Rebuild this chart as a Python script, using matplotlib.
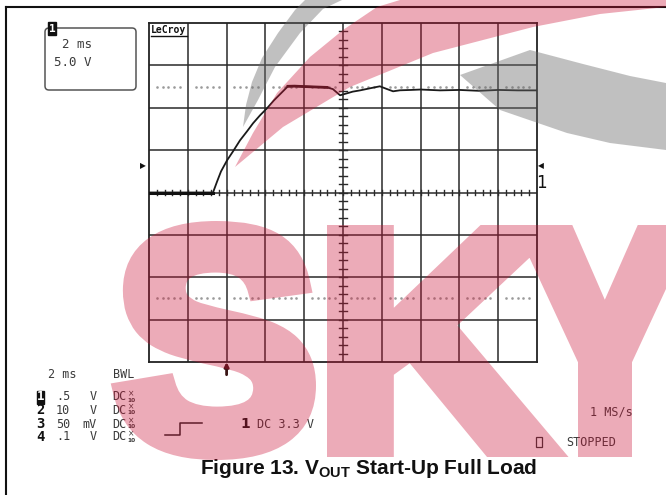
import matplotlib
matplotlib.use("Agg")
import matplotlib.pyplot as plt
import numpy as np
from matplotlib.patches import Polygon, FancyBboxPatch, Rectangle, PathPatch
from matplotlib.textpath import TextPath
from matplotlib.font_manager import FontProperties
from matplotlib.transforms import Affine2D
from matplotlib.path import Path
from matplotlib.figure import Figure
from matplotlib.backends.backend_agg import FigureCanvasAgg

# ---------------- data ----------------
time_ms = [0, 3.30, 3.51, 3.71, 4.02, 4.33, 4.69, 5.05, 5.36, 5.72, 6.08, 6.44,
           6.80, 7.16, 7.5, 8.0, 8.6, 9.18, 9.48, 9.85, 10.2, 10.5, 10.88, 11.4,
           11.9, 12.16, 12.58, 12.94, 13.5, 14.0, 15.0, 16.0, 17.0, 18.0, 19.0, 20.0]
vout_v = [0, 0, 0.130, 0.248, 0.378, 0.485, 0.615, 0.721, 0.816, 0.910, 0.993, 1.087,
          1.170, 1.253, 1.255, 1.250, 1.245, 1.240, 1.220, 1.147, 1.170, 1.190, 1.205,
          1.230, 1.253, 1.230, 1.194, 1.206, 1.210, 1.215, 1.205, 1.210, 1.200, 1.210,
          1.205, 1.205]
ms_per_div = 2.0
volt_per_div = 0.5
n_xdiv = 10
n_ydiv = 8
cursor_levels_v = [1.25, -1.25]
trigger_ms = 4.0

title_main = "Figure 13. V"
title_sub = "OUT"
title_rest = " Start-Up Full Load"
channel_ids = ["1", "2", "3", "4"]
channel_scale = [".5", "10", "50", ".1"]
channel_unit = ["V", "V", "mV", "V"]

W, H = 666, 495
plt.rcParams['mathtext.fontset'] = 'custom'
plt.rcParams['mathtext.rm'] = 'Liberation Sans:bold'

fig = plt.figure(figsize=(W / 100, H / 100), dpi=100)
fig.patch.set_facecolor('white')

# ---------------- graticule axes ----------------
L, R, T, B = 149, 537, 23, 362
ax = fig.add_axes([L / W, 1 - B / H, (R - L) / W, (B - T) / H])
xmax = n_xdiv * ms_per_div
ymax = n_ydiv / 2 * volt_per_div
ax.set_xlim(0, xmax)
ax.set_ylim(-ymax, ymax)
ax.set_xticks([]); ax.set_yticks([])
for s in ax.spines.values():
    s.set_linewidth(1.3); s.set_color('#222')
gcol = '#2a2a2a'
for i in range(1, n_xdiv):
    ax.axvline(i * ms_per_div, color=gcol, lw=1.1, zorder=1)
for j in range(1, n_ydiv):
    ax.axhline(-ymax + j * volt_per_div, color=gcol, lw=1.1, zorder=1)
# centre cross minor ticks
cx = xmax / 2
for k in range(1, n_xdiv * 5):
    x = k * ms_per_div / 5
    ax.plot([x, x], [-0.035, 0.035], color=gcol, lw=1.0, zorder=2)
for k in range(1, n_ydiv * 5):
    y = -ymax + k * volt_per_div / 5
    ax.plot([cx - 0.2, cx + 0.2], [y, y], color=gcol, lw=1.0, zorder=2)
# dotted cursor lines (groups of dots per division)
for lvl in cursor_levels_v:
    xs = []
    for i in range(n_xdiv):
        for f in (0.2, 0.35, 0.5, 0.65, 0.8):
            xs.append((i + f) * ms_per_div)
    ax.plot(xs, [lvl] * len(xs), ls='none', marker='s', ms=0.8, color='#9a9a9a', zorder=2)
# trace
ax.plot(time_ms, vout_v, color='#1a1a1a', lw=1.3, zorder=5)
ax.plot(time_ms[:2], vout_v[:2], color='#111', lw=2.2, zorder=5)
ax.plot(time_ms[13:18], vout_v[13:18], color='#2a1a1a', lw=2.0, zorder=5)
# trigger arrow
ax.annotate('', xy=(trigger_ms, -ymax), xytext=(trigger_ms, -ymax - 0.15),
            arrowprops=dict(arrowstyle='-|>', color='#3a1515', lw=2.0, mutation_scale=6,
                            shrinkA=0, shrinkB=0),
            annotation_clip=False)

# ---------------- overlay (pixel coordinates) ----------------
ov = fig.add_axes([0, 0, 1, 1], zorder=10)
ov.axis('off'); ov.patch.set_alpha(0)

# outer border
ov.plot([6, 6], [7, H], color='#111', lw=1.5)
ov.plot([6, W], [7, 7], color='#111', lw=1.5)

mono = 'DejaVu Sans Mono'
tcol = '#3a3a3a'

# top-left info box
ov.add_patch(FancyBboxPatch((45, 28), 91, 62, boxstyle='round,pad=0,rounding_size=4',
                            fc='none', ec='#555', lw=1.1))
ov.add_patch(Rectangle((48, 22), 8, 13, fc='#111', ec='#111'))
ov.text(52, 29, '1', color='white', fontsize=8, fontweight='bold', family=mono,
        ha='center', va='center')
ov.text(62, 44, '2 ms', color=tcol, fontsize=9, family=mono, ha='left', va='center')
ov.text(54, 62, '5.0 V', color=tcol, fontsize=9, family=mono, ha='left', va='center')

# LeCroy
ov.text(151, 30, 'LeCroy', color='#111', fontsize=7, fontweight='bold', family=mono,
        ha='left', va='center')
ov.plot([151, 187], [36, 36], color='#111', lw=1.0)

# channel markers
ov.text(143, 166, '\u25B6', color='#111', fontsize=5.5, ha='center', va='center')
ov.text(541, 166, '\u25C0', color='#111', fontsize=5.5, ha='center', va='center')
ov.text(541, 183, '1', color='#111', fontsize=12, ha='center', va='center', family='DejaVu Sans')

# bottom-left scope status
ov.text(48, 374, '2 ms', color=tcol, fontsize=8.5, family=mono, ha='left', va='center')
ov.text(113, 374, 'BWL', color=tcol, fontsize=8.5, family=mono, ha='left', va='center')
rows_y = [397, 410, 424, 437]
for cid, sc, un, y in zip(channel_ids, channel_scale, channel_unit, rows_y):
    if cid == '1':
        ov.add_patch(Rectangle((37, y - 6), 7, 13, fc='#111', ec='#111'))
        ov.text(40.5, y, cid, color='white', fontsize=9, fontweight='bold', family=mono,
                ha='center', va='center')
    else:
        ov.text(40.5, y, cid, color='#111', fontsize=10, fontweight='bold', family=mono,
                ha='center', va='center')
    ov.text(56, y, sc, color=tcol, fontsize=8.5, family=mono, ha='left', va='center')
    ov.text(97, y, un, color=tcol, fontsize=8.5, family=mono, ha='right', va='center')
    ov.text(112, y, 'DC', color=tcol, fontsize=8.5, family=mono, ha='left', va='center')
    ov.text(131, y - 3, '\u00D7', color=tcol, fontsize=5.5, ha='center', va='center')
    ov.text(131, y + 3, '10', color=tcol, fontsize=4.2, fontweight='bold', ha='center', va='center')

# trigger step symbol and level
ov.plot([165, 180, 180, 202], [435, 435, 423, 423], color='#222', lw=1.1)
ov.text(245, 424, '1', color='#111', fontsize=10, fontweight='bold', family='DejaVu Sans',
        ha='center', va='center')
ov.text(257, 424, 'DC 3.3 V', color=tcol, fontsize=8.5, family=mono, ha='left', va='center')

# right status
ov.text(590, 412, '1 MS/s', color=tcol, fontsize=8.5, family=mono, ha='left', va='center')
ov.add_patch(Rectangle((536, 437), 6, 10, fc='none', ec='#333', lw=0.9))
ov.text(566, 442, 'STOPPED', color=tcol, fontsize=8.5, family=mono, ha='left', va='center')

# title
ov.text(369, 469, title_main + '$_{\\mathrm{' + title_sub + '}}$' + title_rest,
        color='#111', fontsize=15, fontweight='bold', family='Liberation Sans',
        ha='center', va='center')

# ---------------- watermark (decoration) ----------------
pink = (0.80, 0.08, 0.22)
grey = (0.42, 0.42, 0.42)
swoosh_grey_left = [(243, 127), (246, 105), (252, 82), (262, 58), (278, 33), (295, 10), (305, 0),
                    (342, 0), (323, 9), (300, 33), (275, 67), (258, 100)]
swoosh_pink = [(235, 167), (253, 133), (277, 93), (310, 57), (343, 30), (377, 7), (400, 0),
               (666, 0), (666, 7), (600, 14), (533, 27), (433, 53), (350, 87), (283, 127)]
swoosh_grey_right = [(460, 75), (530, 50), (583, 64), (630, 76), (666, 83),
                     (666, 150), (610, 143), (567, 133), (500, 110)]
ov.add_patch(Polygon(swoosh_grey_left, closed=True, fc=grey, ec='none', alpha=0.42, zorder=20))
ov.add_patch(Polygon(swoosh_pink, closed=True, fc=pink, ec='none', alpha=0.36, zorder=20))
ov.add_patch(Polygon(swoosh_grey_right, closed=True, fc=grey, ec='none', alpha=0.42, zorder=20))

# heavy "SKY" letters: font outlines thickened by a stroke, rendered to a mask
fp = FontProperties(family='Liberation Sans', weight='bold')
grow = 10
paths = []
for ch, (x0, x1, y0, y1) in zip('SKY', [(113, 316, 221, 460), (327, 557, 225, 457),
                                         (520, 690, 225, 457)]):
    x0, x1, y0, y1 = x0 + grow, x1 - grow, y0 + grow, y1 - grow
    tp = TextPath((0, 0), ch, size=100, prop=fp)
    ext = tp.get_extents()
    tr = (Affine2D().translate(-ext.x0, -ext.y0)
          .scale((x1 - x0) / ext.width, -(y1 - y0) / ext.height).translate(x0, y1))
    paths.append(tr.transform_path(tp))
wm = Path.make_compound_path(*paths)

mf = Figure(figsize=(W / 100, H / 100), dpi=100)
mc = FigureCanvasAgg(mf)
ma = mf.add_axes([0, 0, 1, 1])
ma.set_xlim(0, W); ma.set_ylim(H, 0); ma.axis('off')
ma.add_patch(PathPatch(wm, fc='k', ec='k', lw=2 * grow * 0.72, joinstyle='miter'))
mc.draw()
mask = 1.0 - np.asarray(mc.buffer_rgba())[:, :, 0].astype(float) / 255.0
rgba = np.zeros((mask.shape[0], mask.shape[1], 4))
rgba[..., 0], rgba[..., 1], rgba[..., 2] = pink
rgba[..., 3] = mask * 0.36
ov.imshow(rgba, extent=(0, W, H, 0), zorder=20, interpolation='nearest', aspect='auto')

ov.set_xlim(0, W); ov.set_ylim(H, 0)
fig.savefig('out.png', dpi=100, facecolor='white')
